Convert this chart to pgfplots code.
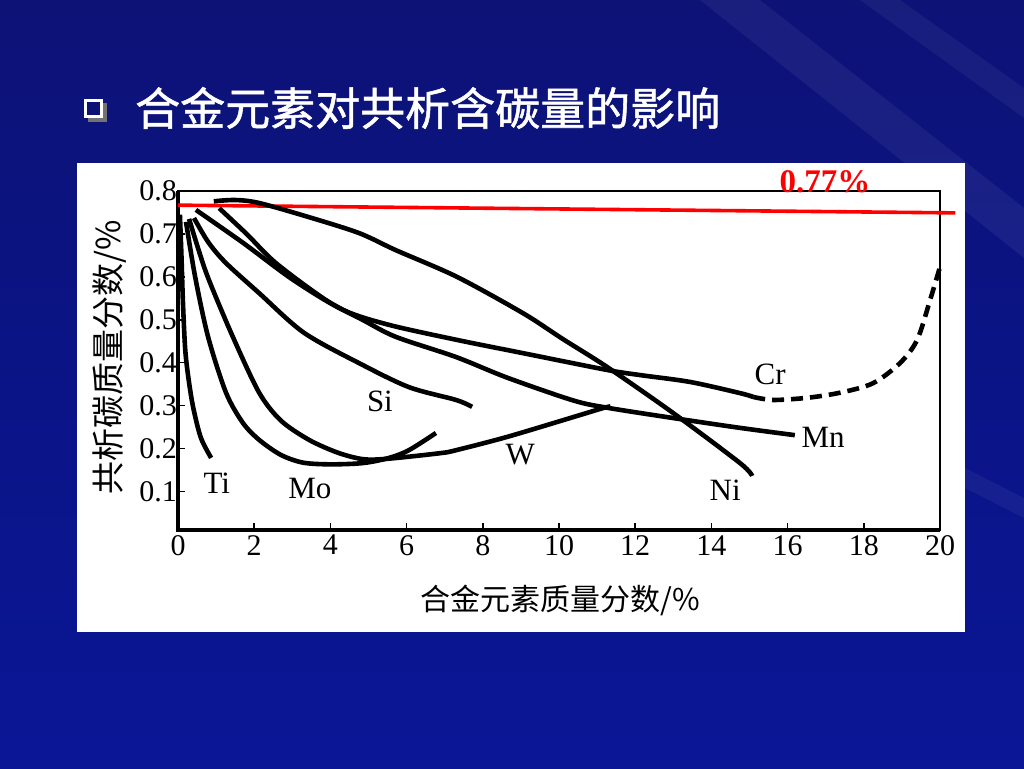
\documentclass[border=0pt]{standalone}
\usepackage{pgfplots}
\pgfplotsset{compat=1.18}
\usepackage{fontspec}
\setmainfont{Liberation Serif}
\newfontfamily\cjk{Noto Sans CJK SC}
\newfontfamily\cjkb[FakeBold=1.2]{Noto Sans CJK SC}
\definecolor{bgtop}{RGB}{12,18,118}
\definecolor{bgbot}{RGB}{10,22,150}
\begin{document}
\begin{tikzpicture}[x=1pt,y=1pt]
\path[use as bounding box] (0,0) rectangle (1024,768);
\shade[top color=bgtop, bottom color=bgbot] (0,0) rectangle (1024,768);
% faint streaks
\fill[white, opacity=0.06] (700,768) -- (760,768) -- (1024,560) -- (1024,510) -- cycle;
\fill[white, opacity=0.05] (860,768) -- (900,768) -- (1024,680) -- (1024,650) -- cycle;
\fill[white, opacity=0.05] (965,300) -- (1024,270) -- (1024,250) -- (965,280) -- cycle;
% white panel
\fill[white] (77,136) rectangle (965,605);
% title bullet
\fill[black!55] (88,646) rectangle (107,665);
\fill[white] (84,650) rectangle (103,669);
\fill[bgtop] (87,653) rectangle (100,666);
\node[anchor=west, text=white, font=\cjkb\fontsize{45}{45}\selectfont, inner sep=0] at (135,660) {合金元素对共析含碳量的影响};
% axis labels
\node[rotate=90, font=\cjk\fontsize{33}{33}\selectfont, inner sep=0] at (110,411) {共析碳质量分数/\%};
\node[font=\cjk\fontsize{30}{30}\selectfont, inner sep=0] at (560,168) {合金元素质量分数/\%};
\begin{axis}[
  at={(178pt,238pt)}, anchor=south west,
  scale only axis, width=762pt, height=339pt,
  xmin=0, xmax=20, ymin=0.01, ymax=0.8,
  xtick={0,2,4,6,8,10,12,14,16,18,20},
  ytick={0.1,0.2,0.3,0.4,0.5,0.6,0.7,0.8},
  tick pos=left, tick align=inside, major tick length=7pt,
  every tick/.style={black, line width=1.6pt},
  axis line style={line width=1.6pt},
  ticklabel style={font=\fontsize{30}{30}\selectfont},
  /pgf/number format/assume math mode=true,
  yticklabel style={/pgf/number format/fixed, /pgf/number format/precision=1, inner sep=1pt},
  xticklabel style={inner sep=5pt},
  clip=false,
]
\draw[line width=3.2pt] (rel axis cs:0,1) -- (rel axis cs:0,0) -- (rel axis cs:1,0);
% red 0.77 line
\addplot[red, line width=3.6pt] coordinates {(0,0.767) (20.4,0.749)};
\node[text=red, font=\bfseries\fontsize{33}{33}\selectfont] at (axis cs:16.98,0.821) {0.77\%};
% Ti
\addplot[black, line width=4.6pt, smooth, tension=0.5] coordinates {
(0.05,0.745)(0.09,0.65)(0.13,0.54)(0.19,0.43)(0.28,0.36)(0.4,0.295)(0.6,0.225)(0.87,0.178)};
% Mo
\addplot[black, line width=4.6pt, smooth, tension=0.5] coordinates {
(0.21,0.728)(0.45,0.6)(0.79,0.46)(1.26,0.33)(1.7,0.26)(2.13,0.22)(2.7,0.185)(3.28,0.167)(4.0,0.163)(4.86,0.166)(5.54,0.178)(6.06,0.196)(6.77,0.236)};
% W
\addplot[black, line width=4.6pt, smooth, tension=0.5] coordinates {
(0.29,0.735)(0.55,0.66)(0.81,0.593)(1.44,0.46)(2.13,0.33)(2.7,0.265)(3.44,0.22)(4.2,0.19)(4.86,0.175)(5.5,0.176)(6.88,0.189)(7.3,0.196)(8.64,0.227)(10.37,0.273)(11.15,0.294)(11.35,0.298)};
% Si
\addplot[black, line width=4.6pt, smooth, tension=0.5] coordinates {
(0.42,0.737)(0.8,0.68)(1.26,0.632)(2.13,0.562)(3.3,0.47)(4.75,0.399)(6.06,0.343)(7.3,0.313)(7.72,0.297)};
% Cr solid
\addplot[black, line width=4.6pt, smooth, tension=0.5] coordinates {
(0.47,0.756)(1.71,0.679)(3.02,0.593)(4.33,0.523)(5.54,0.488)(7.32,0.453)(9.06,0.422)(11.26,0.383)(12.13,0.371)(13.44,0.355)(14.75,0.329)(15.1,0.32)};
% Cr dashed
\addplot[black, line width=4.6pt, smooth, tension=0.5, dash pattern=on 12pt off 7pt] coordinates {
(15.1,0.32)(15.62,0.313)(16.51,0.318)(17.38,0.33)(18.24,0.352)(18.95,0.399)(19.4,0.453)(19.74,0.546)(20.0,0.623)};
% Mn
\addplot[black, line width=4.6pt, smooth, tension=0.5] coordinates {
(1.08,0.76)(1.8,0.7)(2.57,0.632)(3.88,0.546)(4.86,0.499)(5.72,0.46)(7.3,0.413)(8.64,0.365)(10.37,0.312)(11.26,0.295)(12.99,0.271)(14.75,0.248)(16.19,0.231)};
% Ni
\addplot[black, line width=4.6pt, smooth, tension=0.5] coordinates {
(0.94,0.776)(1.5,0.779)(2.13,0.772)(3.44,0.739)(4.75,0.702)(5.72,0.662)(7.32,0.600)(9.06,0.515)(10.1,0.455)(11.26,0.39)(12.99,0.283)(14.75,0.166)(15.07,0.136)};
% curve labels
\begin{scope}[every node/.style={font=\fontsize{31}{31}\selectfont, inner sep=0}]
\node at (axis cs:1.02,0.119) {Ti};
\node at (axis cs:3.46,0.107) {Mo};
\node at (axis cs:5.30,0.310) {Si};
\node at (axis cs:8.98,0.185) {W};
\node at (axis cs:14.36,0.103) {Ni};
\node at (axis cs:15.54,0.373) {Cr};
\node at (axis cs:16.93,0.227) {Mn};
\end{scope}
\end{axis}
\end{tikzpicture}
\end{document}
